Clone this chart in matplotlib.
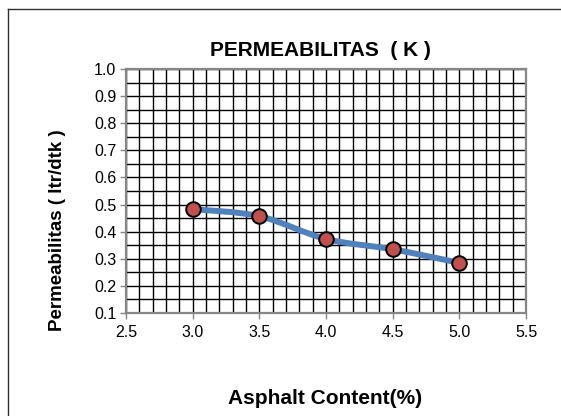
import matplotlib
matplotlib.use("Agg")
import matplotlib.pyplot as plt
from matplotlib.path import Path
from matplotlib.patches import PathPatch
from matplotlib.lines import Line2D
from matplotlib.ticker import MultipleLocator

# data
asphalt_content = [3.0, 3.5, 4.0, 4.5, 5.0]
permeability = [0.483, 0.457, 0.373, 0.335, 0.285]

x_ticks = [2.5, 3.0, 3.5, 4.0, 4.5, 5.0, 5.5]
y_ticks = [0.1, 0.2, 0.3, 0.4, 0.5, 0.6, 0.7, 0.8, 0.9, 1.0]

plt.rcParams['font.family'] = ['Liberation Sans', 'DejaVu Sans']

W, H = 561, 416
fig = plt.figure(figsize=(W / 100, H / 100), dpi=100)
ax = fig.add_axes([126 / W, 1 - 313 / H, 400 / W, 244 / H])

ax.set_xlim(2.5, 5.5)
ax.set_ylim(0.1, 1.0)
ax.set_xticks(x_ticks)
ax.set_yticks(y_ticks)
ax.set_xticklabels([f"{v:.1f}" for v in x_ticks])
ax.set_yticklabels([f"{v:.1f}" for v in y_ticks])
ax.xaxis.set_minor_locator(MultipleLocator(0.1))
ax.yaxis.set_minor_locator(MultipleLocator(0.05))
ax.grid(which='both', color='black', linewidth=1.0)
ax.set_axisbelow(True)
ax.tick_params(which='major', direction='out', length=4, width=1, color='#868686',
               labelsize=11.5, pad=3)
ax.tick_params(axis='x', which='major', pad=4.5)
ax.tick_params(which='minor', length=0)
for s in ['top', 'right', 'left', 'bottom']:
    ax.spines[s].set_color('#868686')
    ax.spines[s].set_linewidth(1.6)

# smoothed line like Excel (catmull-rom style bezier through the points)
pts = list(zip(asphalt_content, permeability))
verts = [pts[0]]
codes = [Path.MOVETO]
n = len(pts)
for i in range(n - 1):
    p0 = pts[i - 1] if i > 0 else pts[i]
    p1 = pts[i]
    p2 = pts[i + 1]
    p3 = pts[i + 2] if i + 2 < n else pts[i + 1]
    c1 = (p1[0] + (p2[0] - p0[0]) / 6, p1[1] + (p2[1] - p0[1]) / 6)
    c2 = (p2[0] - (p3[0] - p1[0]) / 6, p2[1] - (p3[1] - p1[1]) / 6)
    verts += [c1, c2, p2]
    codes += [Path.CURVE4] * 3
ax.add_patch(PathPatch(Path(verts, codes), fill=False, edgecolor='#4F81BD',
                       linewidth=4.3, capstyle='round', joinstyle='round', zorder=3))
ax.plot(asphalt_content, permeability, linestyle='none', marker='o', markersize=10.5,
        markerfacecolor='#C0504D', markeredgecolor='black', markeredgewidth=1.4, zorder=4)

fig.text(320 / W, 1 - 51 / H, "PERMEABILITAS  ( K )", ha='center', va='center',
         fontsize=15, fontweight='bold')
fig.text(325 / W, 1 - 398 / H, "Asphalt Content(%)", ha='center', va='center',
         fontsize=15, fontweight='bold')
fig.text(58 / W, 1 - 230 / H, "Permeabilitas ( ltr/dtk )", ha='center', va='center',
         rotation=90, fontsize=13.5, fontweight='bold')

# outer chart border (top and left edges visible)
fig.add_artist(Line2D([8 / W, 1.0], [1 - 9 / H, 1 - 9 / H], transform=fig.transFigure,
                      color='#303030', linewidth=1))
fig.add_artist(Line2D([8 / W, 8 / W], [0.0, 1 - 9 / H], transform=fig.transFigure,
                      color='#303030', linewidth=1))

fig.savefig("out.png", dpi=100)
